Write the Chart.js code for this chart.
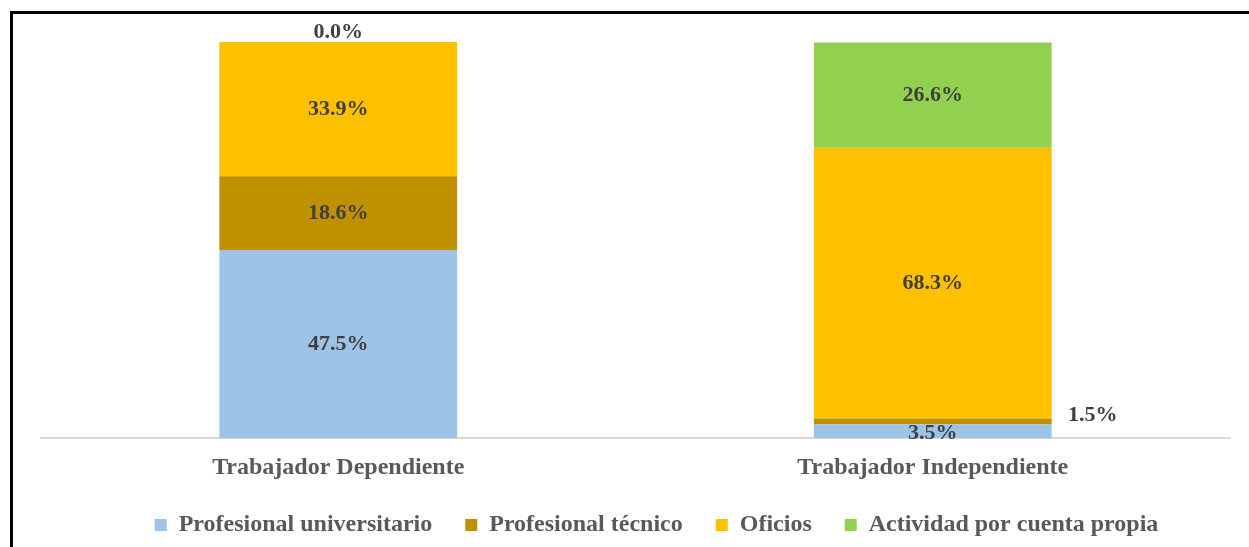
<!DOCTYPE html>
<html>
<head>
<meta charset="utf-8">
<script src="https://cdn.jsdelivr.net/npm/chart.js@4/dist/chart.umd.min.js"></script>
<style>
    html, body { margin: 0; padding: 0; background: #fff; }
    #wrap { position: relative; width: 1249px; height: 547px; overflow: hidden; }
    #frame {
        position: absolute; left: 10px; top: 11px; right: -10px; bottom: -10px;
        border-top: 3px solid #000; border-left: 3px solid #000;
    }
    canvas { position: absolute; left: 0; top: 0; }
</style>
</head>
<body>
<div id="wrap">
    <div id="frame"></div>
    <canvas id="chart" width="1249" height="547"></canvas>
</div>
<script>
/* Distribución por tipo de ocupación — barras apiladas al 100% */

const categories = ['Trabajador Dependiente', 'Trabajador Independiente'];
const seriesNames = ['Profesional universitario', 'Profesional técnico', 'Oficios', 'Actividad por cuenta propia'];
const universitario = [47.5, 3.5];
const tecnico = [18.6, 1.5];
const oficios = [33.9, 68.3];
const cuentaPropia = [0.0, 26.6];
const colors = ['#9DC3E6', '#BF9000', '#FFC000', '#92D050'];

const FONT = '"Liberation Serif", "Times New Roman", serif';

// simple inline data-label plugin
const barLabels = {
    id: 'barLabels',
    afterDatasetsDraw: function (chart) {
        const ctx = chart.ctx;
        ctx.save();
        ctx.font = 'bold 22px ' + FONT;
        ctx.fillStyle = '#404040';
        ctx.textAlign = 'center';
        ctx.textBaseline = 'middle';
        chart.data.datasets.forEach(function (ds, di) {
            const meta = chart.getDatasetMeta(di);
            meta.data.forEach(function (bar, i) {
                const v = ds.data[i];
                const txt = v.toFixed(1) + '%';
                let x = bar.x;
                let y = (bar.y + bar.base) / 2;
                if (v === 0) {
                    y = bar.y - 10;
                } else if (v < 2) {
                    x = bar.x + bar.width / 2 + 41;
                    y = y - 6;
                } else if (v < 5) {
                    y = y + 2;
                }
                ctx.fillText(txt, x, y);
            });
        });
        ctx.restore();
    }
};

// move the legend to where the original has it
const legendShift = {
    id: 'legendShift',
    afterLayout: function (chart) {
        const lg = chart.legend;
        lg.left += 21;
        lg.right += 21;
        lg.top -= 17;
        lg.bottom -= 17;
    }
};

const series = [universitario, tecnico, oficios, cuentaPropia];

new Chart(document.getElementById('chart'), {
    type: 'bar',
    data: {
        labels: categories,
        datasets: series.map(function (vals, i) {
            return {
                label: seriesNames[i],
                data: vals,
                backgroundColor: colors[i],
                borderWidth: 0,
                barPercentage: 0.8,
                categoryPercentage: 0.5,
            };
        }),
    },
    options: {
        responsive: false,
        animation: false,
        layout: { padding: { left: 41, right: 19, top: 42, bottom: -17 } },
        plugins: {
            legend: {
                position: 'bottom',
                labels: {
                    color: '#595959',
                    font: { family: FONT, size: 24, weight: 'bold' },
                    boxWidth: 12,
                    boxHeight: 12,
                    padding: 33,
                },
            },
            tooltip: { enabled: false },
        },
        scales: {
            x: {
                stacked: true,
                grid: { display: false, drawTicks: false },
                border: { display: true, color: '#d9d9d9', width: 2 },
                ticks: {
                    color: '#595959',
                    padding: 15,
                    font: { family: FONT, size: 24, weight: 'bold' },
                },
            },
            y: {
                stacked: true,
                display: false,
                min: 0,
                max: 100,
            },
        },
    },
    plugins: [barLabels, legendShift],
});
</script>
</body>
</html>
